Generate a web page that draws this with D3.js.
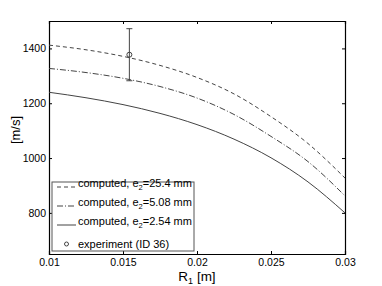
<!DOCTYPE html>
<html lang="en">
<head>
  <meta charset="UTF-8" />
  <title>Velocity vs R1</title>
  <script src="https://d3js.org/d3.v7.min.js"></script>
  <style>
    body {
      margin: 0;
      background-color: #ffffff;
      font-family: 'Liberation Sans', Arial, sans-serif;
    }

    .tick-label {
      font-size: 10.5px;
      fill: #000;
    }

    .legend-item {
      font-size: 11px;
    }

    .curve {
      fill: none;
      stroke: #444;
      stroke-width: 1;
    }
  </style>
</head>
<body>

  <div id="chart"></div>

  <script>
    // R1 sample positions [m]
    const radii = [0.01, 0.0125, 0.015, 0.0175, 0.02, 0.0225, 0.025, 0.0275, 0.03];

    // computed velocity [m/s] for each e2
    const thick254 = [1412, 1395, 1371, 1338, 1294, 1234, 1151, 1053, 927];
    const thick508 = [1327, 1312, 1291, 1261, 1219, 1159, 1079, 987, 862];
    const thin254 = [1240, 1220, 1195, 1163, 1122, 1069, 1001, 913, 800];

    // experiment (ID 36)
    const expR = [0.01543];
    const expV = [1377];
    const expLow = [1282];
    const expHigh = [1472];

    const xTicks = [0.01, 0.015, 0.02, 0.025, 0.03];
    const yTicks = [800, 1000, 1200, 1400];

    const series = [
      { label: "25.4 mm", values: thick254, dash: "4,3" },
      { label: "5.08 mm", values: thick508, dash: "6,2,1,2" },
      { label: "2.54 mm", values: thin254, dash: null }
    ];

    function drawChart() {
      const svgWidth = 382;
      const svgHeight = 286;
      const margin = { top: 21, right: 37, bottom: 32, left: 49 };
      const width = svgWidth - margin.left - margin.right;
      const height = svgHeight - margin.top - margin.bottom;

      const svg = d3.select("#chart")
        .append("svg")
        .attr("width", svgWidth)
        .attr("height", svgHeight);

      const g = svg.append("g")
        .attr("transform", `translate(${margin.left},${margin.top})`);

      const x = d3.scaleLinear().domain([0.01, 0.03]).range([0, width]);
      const y = d3.scaleLinear().domain([650, 1500]).range([height, 0]);

      // axes, MATLAB style: inward ticks, box all round
      g.append("g")
        .attr("transform", `translate(0,${height})`)
        .call(d3.axisBottom(x).tickValues(xTicks).tickSize(-3).tickPadding(5).tickFormat(d => String(+d.toFixed(3))))
        .call(styleAxis);

      g.append("g")
        .call(d3.axisTop(x).tickValues(xTicks).tickSize(-3).tickFormat(""))
        .call(styleAxis);

      g.append("g")
        .call(d3.axisLeft(y).tickValues(yTicks).tickSize(-3).tickPadding(3).tickFormat(d3.format("d")))
        .call(styleAxis);

      g.append("g")
        .attr("transform", `translate(${width},0)`)
        .call(d3.axisRight(y).tickValues(yTicks).tickSize(-3).tickFormat(""))
        .call(styleAxis);

      // curves
      const line = d3.line()
        .x((d, i) => x(radii[i]))
        .y(d => y(d))
        .curve(d3.curveMonotoneX);

      series.forEach(s => {
        g.append("path")
          .datum(s.values)
          .attr("class", "curve")
          .attr("stroke-dasharray", s.dash)
          .attr("d", line);
      });

      // experiment point with error bar
      expR.forEach((r, i) => {
        g.append("line")
          .attr("x1", x(r)).attr("x2", x(r))
          .attr("y1", y(expLow[i])).attr("y2", y(expHigh[i]))
          .attr("stroke", "#444");
        [expLow[i], expHigh[i]].forEach(v => {
          g.append("line")
            .attr("x1", x(r) - 3).attr("x2", x(r) + 3)
            .attr("y1", y(v)).attr("y2", y(v))
            .attr("stroke", "#444");
        });
        g.append("circle")
          .attr("cx", x(r)).attr("cy", y(expV[i]))
          .attr("r", 2.5)
          .attr("fill", "none")
          .attr("stroke", "#444");
      });

      drawLegend(svg);

      // axis labels
      const xl = svg.append("text")
        .attr("x", 197)
        .attr("y", 281)
        .attr("text-anchor", "middle")
        .attr("font-size", 13.5);
      xl.append("tspan").text("R");
      xl.append("tspan").attr("dy", 3).attr("font-size", 9).text("1");
      xl.append("tspan").attr("dy", -3).text(" [m]");

      svg.append("text")
        .attr("transform", "translate(20,130) rotate(-90)")
        .attr("text-anchor", "middle")
        .attr("font-size", 13)
        .text("[m/s]");
    }

    function styleAxis(sel) {
      sel.select(".domain").attr("stroke", "#000").attr("stroke-width", 1.2);
      sel.selectAll(".tick line").attr("stroke", "#000");
      sel.selectAll(".tick text")
        .attr("class", "tick-label")
        .attr("font-family", "'Liberation Sans', Arial, sans-serif");
    }

    function drawLegend(svg) {
      const lg = svg.append("g").attr("transform", "translate(52,182)");

      lg.append("rect")
        .attr("width", 142)
        .attr("height", 69)
        .attr("fill", "#fff")
        .attr("stroke", "#555");

      const rows = [...series.map(s => ({ dash: s.dash, text: s.label, marker: false })),
        { dash: null, text: "experiment (ID 36)", marker: true }];

      rows.forEach((row, i) => {
        const cy = 5 + i * 19;
        const item = lg.append("g")
          .attr("class", "legend-item")
          .attr("transform", `translate(0,${cy})`);
        if (row.marker) {
          item.append("circle")
            .attr("cx", 14.5).attr("cy", 0).attr("r", 2)
            .attr("fill", "none").attr("stroke", "#444");
          item.append("text").attr("x", 26).attr("y", 4).text(row.text);
        } else {
          item.append("line")
            .attr("x1", 5).attr("x2", 24)
            .attr("y1", 0).attr("y2", 0)
            .attr("stroke", "#444")
            .attr("stroke-dasharray", row.dash);
          const t = item.append("text").attr("x", 26).attr("y", 0);
          t.append("tspan").text("computed, e");
          t.append("tspan").attr("dy", 3).attr("font-size", 7.5).text("2");
          t.append("tspan").attr("dy", -3).text("=" + row.text);
        }
      });
    }

    drawChart();
  </script>

</body>
</html>
